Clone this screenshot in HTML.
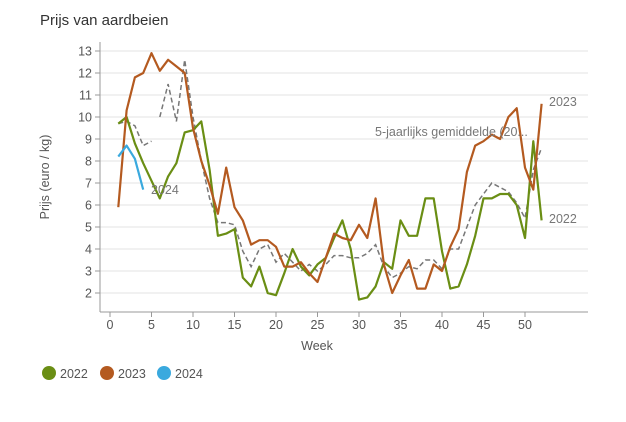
<!DOCTYPE html><html><head><meta charset="utf-8"><style>body{margin:0;background:#fff}svg{font-family:"Liberation Sans",sans-serif}</style></head><body>
<svg id="c" width="626" height="417" viewBox="0 0 626 417"></svg>
<script>
const s=document.getElementById('c');
const X=w=>110+w*8.3, Y=v=>51+(13-v)*22;
let h='<text x="40" y="25" font-size="15" fill="#333">Prijs van aardbeien</text>';
for(let v=2;v<=13;v++){h+=`<line x1="100" x2="588" y1="${Y(v)}" y2="${Y(v)}" stroke="#e3e3e3"/><line x1="95" x2="100" y1="${Y(v)}" y2="${Y(v)}" stroke="#999"/><text x="92" y="${Y(v)+4.5}" font-size="12.5" fill="#555" text-anchor="end">${v}</text>`;}
h+='<line x1="100" x2="100" y1="42" y2="312" stroke="#999"/><line x1="100" x2="588" y1="312" y2="312" stroke="#999"/>';
for(let w=0;w<=50;w+=5){h+=`<line x1="${X(w)}" x2="${X(w)}" y1="312" y2="317" stroke="#999"/><text x="${X(w)}" y="329" font-size="12.5" fill="#555" text-anchor="middle">${w}</text>`;}
h+='<text x="317" y="350" font-size="12.5" fill="#555" text-anchor="middle">Week</text>';
h+='<text transform="translate(49,177) rotate(-90)" font-size="12.5" fill="#555" text-anchor="middle">Prijs (euro / kg)</text>';
const g=[9.7,10.0,8.8,7.9,7.1,6.3,7.3,7.9,9.3,9.4,9.8,7.6,4.6,4.7,4.9,2.7,2.3,3.2,2.0,1.9,2.9,4.0,3.2,2.8,3.3,3.6,4.5,5.3,4.0,1.7,1.8,2.3,3.4,3.1,5.3,4.6,4.6,6.3,6.3,3.9,2.2,2.3,3.3,4.6,6.3,6.3,6.5,6.5,6.0,4.5,8.9,5.3];
const o=[5.9,10.3,11.8,12.0,12.9,12.1,12.6,12.3,12.0,9.5,8.0,6.9,5.6,7.7,5.9,5.3,4.2,4.4,4.4,4.1,3.2,3.2,3.4,2.9,2.5,3.6,4.7,4.5,4.4,5.1,4.5,6.3,3.3,2.0,2.8,3.5,2.2,2.2,3.3,3.0,4.1,4.9,7.5,8.7,8.9,9.2,9.0,10.0,10.4,7.7,6.7,10.6];
const b=[8.2,8.7,8.1,6.7];
const a=[9.7,9.8,9.6,8.7,8.9,null,10.0,11.5,9.8,12.6,10.0,8.0,6.3,5.2,5.2,5.1,3.9,3.2,4.0,4.2,3.4,3.8,3.4,3.0,3.3,3.0,3.3,3.7,3.7,3.6,3.6,3.8,4.2,3.2,2.7,2.9,3.2,3.1,3.5,3.5,3.1,4.0,4.0,5.0,6.0,6.5,7.0,6.8,6.6,6.1,5.4,7.6,8.6];
function pl(d,col,dash,off){let segs=[[]];d.forEach((v,i)=>{if(v==null)segs.push([]);else segs[segs.length-1].push(X(i+off)+','+Y(v));});return segs.map(p=>`<polyline points="${p.join(' ')}" fill="none" stroke="${col}" stroke-width="${dash?1.5:2.2}" ${dash?'stroke-dasharray="5,3"':''} stroke-linejoin="round"/>`).join('');}
// average: first 5 weeks 1-5, then gap shifted; map indices
let av=[9.7,9.8,9.6,8.7,8.9];let avp=av.map((v,i)=>X(i+1)+','+Y(v)).join(' ');
let av2=a.slice(6);let avp2=av2.map((v,i)=>X(i+6)+','+Y(v)).join(' ');
h+=`<polyline points="${avp}" fill="none" stroke="#777" stroke-width="1.5" stroke-dasharray="5,3"/><polyline points="${avp2}" fill="none" stroke="#777" stroke-width="1.5" stroke-dasharray="5,3"/>`;
h+=pl(g,'#6a8e14',0,1)+pl(o,'#b45a20',0,1)+pl(b,'#3aa9de',0,1);
h+='<text x="151" y="194" font-size="12.5" fill="#777">2024</text><text x="549" y="106" font-size="12.5" fill="#777">2023</text><text x="549" y="223" font-size="12.5" fill="#777">2022</text><text x="375" y="136" font-size="12.5" fill="#777">5-jaarlijks gemiddelde (20...</text>';
[['#6a8e14',49,'2022'],['#b45a20',107,'2023'],['#3aa9de',164,'2024']].forEach(([c,x,t])=>{h+=`<circle cx="${x}" cy="373" r="7" fill="${c}"/><text x="${x+11}" y="378" font-size="12.5" fill="#555">${t}</text>`;});
s.innerHTML=h;
</script></body></html>
